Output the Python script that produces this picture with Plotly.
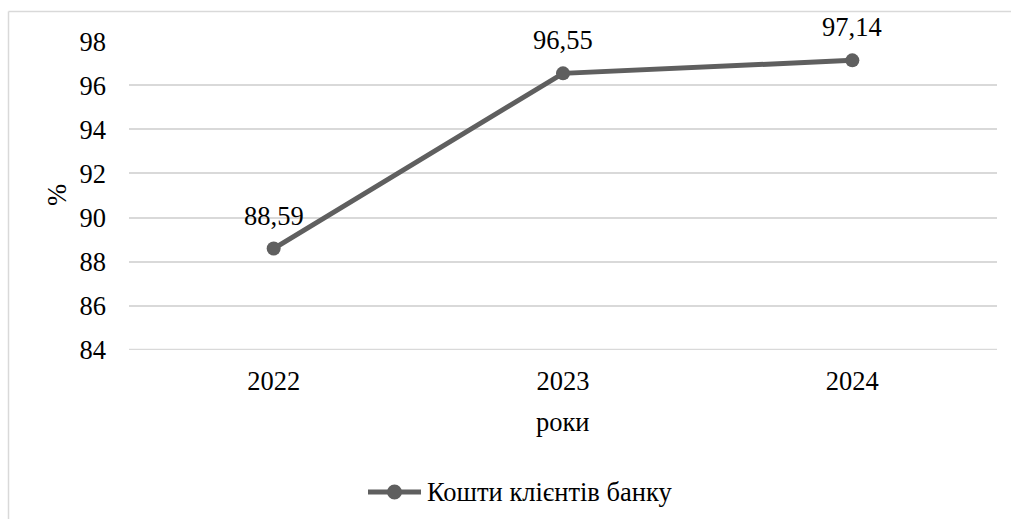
import plotly.graph_objects as go

years = ["2022", "2023", "2024"]
values = [88.59, 96.55, 97.14]
series_name = "Кошти клієнтів банку"
y_ticks = [84, 86, 88, 90, 92, 94, 96, 98]

LINE_COLOR = "#5f5f5f"
GRID_COLOR = "#d9d9d9"
FONT = "'Times New Roman', 'Liberation Serif', serif"
FS = 26.5

W, H = 1011, 519
L, R, T, B = 129, 14, 41, 169
plot_w = W - L - R
plot_h = H - T - B


def px_to_paper_x(px):
    return (px - L) / plot_w


def px_to_paper_y(py):
    return (H - B - py) / plot_h


xpos = list(range(len(years)))

fig = go.Figure()
fig.add_trace(go.Scatter(
    x=xpos, y=values, name=series_name,
    mode="lines+markers",
    line=dict(color=LINE_COLOR, width=5),
    marker=dict(color=LINE_COLOR, size=14),
    showlegend=False,
))

# value labels above each point, with a decimal comma
for xi, v in zip(xpos, values):
    fig.add_annotation(
        x=xi, y=v, text=f"{v:.2f}".replace(".", ","),
        showarrow=False, yshift=33,
        font=dict(family=FONT, size=FS, color="#000000"),
    )

# axis titles
fig.add_annotation(
    x=0.5, y=px_to_paper_y(422), xref="paper", yref="paper",
    text="роки", showarrow=False, yanchor="middle",
    font=dict(family=FONT, size=FS, color="#000000"),
)
fig.add_annotation(
    x=px_to_paper_x(57), y=px_to_paper_y(195), xref="paper", yref="paper",
    text="%", showarrow=False, textangle=-90,
    xanchor="center", yanchor="middle",
    font=dict(family=FONT, size=FS, color="#000000"),
)

# bottom gridline at the lowest tick (the axis edge)
fig.add_shape(type="line", xref="paper", yref="y",
              x0=0, x1=1, y0=y_ticks[0], y1=y_ticks[0],
              line=dict(color=GRID_COLOR, width=1.5), layer="below")

# legend key: line sample with a marker, then the series name
leg_y = px_to_paper_y(492)
fig.add_shape(type="line", xref="paper", yref="paper",
              x0=px_to_paper_x(368), x1=px_to_paper_x(421),
              y0=leg_y, y1=leg_y,
              line=dict(color=LINE_COLOR, width=5))
fig.add_shape(type="circle", xref="paper", yref="paper",
              x0=px_to_paper_x(387), x1=px_to_paper_x(402),
              y0=px_to_paper_y(499.5), y1=px_to_paper_y(484.5),
              fillcolor=LINE_COLOR, line=dict(width=0))
fig.add_annotation(
    x=px_to_paper_x(425), y=leg_y, xref="paper", yref="paper",
    text=series_name, showarrow=False, xanchor="left", yanchor="middle",
    font=dict(family=FONT, size=FS, color="#000000"),
)

# chart frame (top and left edges)
fig.add_shape(type="line", xref="paper", yref="paper",
              x0=px_to_paper_x(8.5), x1=px_to_paper_x(1015),
              y0=px_to_paper_y(11.5), y1=px_to_paper_y(11.5),
              line=dict(color="#d9d9d9", width=1.5))
fig.add_shape(type="line", xref="paper", yref="paper",
              x0=px_to_paper_x(8.5), x1=px_to_paper_x(8.5),
              y0=px_to_paper_y(11.5), y1=px_to_paper_y(525),
              line=dict(color="#d9d9d9", width=1.5))

fig.update_layout(
    width=W, height=H,
    margin=dict(l=L, r=R, t=T, b=B),
    paper_bgcolor="white", plot_bgcolor="white",
    font=dict(family=FONT, size=FS, color="#000000"),
    showlegend=False,
    xaxis=dict(
        range=[-0.5, len(years) - 0.5],
        tickvals=xpos, ticktext=years,
        showgrid=False, zeroline=False,
        showline=False, ticks="", ticklabelstandoff=12,
        tickfont=dict(family=FONT, size=FS, color="#000000"),
    ),
    yaxis=dict(
        range=[83.98, 98.02], tickvals=y_ticks,
        ticktext=[str(t) for t in y_ticks],
        showgrid=True, gridcolor=GRID_COLOR, gridwidth=1.5,
        zeroline=False, showline=False, ticks="",
        ticklabelstandoff=22,
        tickfont=dict(family=FONT, size=FS, color="#000000"),
    ),
)

fig.write_html("out.html")
